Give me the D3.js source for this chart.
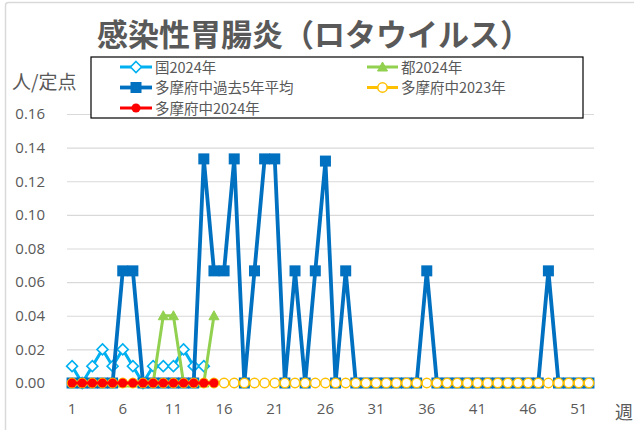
<!DOCTYPE html>
<html><head><meta charset="utf-8">
<script src="https://cdn.jsdelivr.net/npm/d3@7"></script>
<style>body{margin:0;background:#fff;}svg{display:block;}</style>
</head><body>
<svg id="chart" width="634" height="430"></svg>
<script>
const weeks = [1,2,3,4,5,6,7,8,9,10,11,12,13,14,15,16,17,18,19,20,21,22,23,24,25,26,27,28,29,30,31,32,33,34,35,36,37,38,39,40,41,42,43,44,45,46,47,48,49,50,51,52];
const xTickLabels = [1,6,11,16,21,26,31,36,41,46,51];
const yTicks = [0,0.02,0.04,0.06,0.08,0.10,0.12,0.14,0.16];
const nationalValues = [0.01,0,0.01,0.02,0.01,0.02,0.01,0,0.01,0.01,0.01,0.02,0.01,0.01];
const tokyoValues = [0,0,0,0,0,0,0,0,0,0.04,0.04,0,0,0,0.04];
const avg5Values = [0,0,0,0,0,0.0667,0.0667,0,0,0,0,0,0,0.1333,0.0667,0.0667,0.1333,0,0.0667,0.1333,0.1333,0,0.0667,0,0.0667,0.132,0,0.0667,0,0,0,0,0,0,0,0.0667,0,0,0,0,0,0,0,0,0,0,0,0.0667,0,0,0,0];
const tama2023Values = [0,0,0,0,0,0,0,0,0,0,0,0,0,0,0,0,0,0,0,0,0,0,0,0,0,0,0,0,0,0,0,0,0,0,0,0,0,0,0,0,0,0,0,0,0,0,0,0,0,0,0,0];
const tama2024Values = [0,0,0,0,0,0,0,0,0,0,0,0,0,0,0];
const seriesNames = ["国2024年","都2024年","多摩府中過去5年平均","多摩府中2023年","多摩府中2024年"];

const svg = d3.select("#chart");
const gray = "#595959";
const jp = "'Noto Sans CJK JP','Noto Sans',sans-serif";
const num = "'Open Sans','Noto Sans',sans-serif";

// chart area border
svg.append("rect").attr("x",5.5).attr("y",2.5).attr("width",700).attr("height",500)
  .attr("rx",3).attr("fill","none").attr("stroke","#d9d9d9").attr("stroke-width",1.5);

const x = d3.scaleBand().domain(weeks).range([67,594]).padding(0);
const y = d3.scaleLinear().domain([0,0.16]).range([383,114]);
const cx = w => x(w) + x.bandwidth()/2;

// gridlines
const yAxis = d3.axisLeft(y).tickValues(yTicks).tickSize(-(594-67)).tickFormat(d3.format(".2f"));
const gy = svg.append("g").attr("transform","translate(67,0)").call(yAxis);
gy.select(".domain").remove();
gy.selectAll(".tick line").attr("stroke","#d9d9d9").attr("stroke-width",1.2);
gy.selectAll(".tick text").attr("x",-22).attr("fill",gray).style("font-family",num).style("font-size","15px");

const xAxis = d3.axisBottom(x).tickValues(xTickLabels).tickSize(0);
const gx = svg.append("g").attr("transform","translate(0,383)").call(xAxis);
gx.select(".domain").remove();
gx.selectAll(".tick text").attr("y",19).attr("dy","0.71em").attr("fill",gray).style("font-family",num).style("font-size","15px");
gx.selectAll(".tick text").attr("dy",null).attr("y",31);

// title, axis labels
svg.append("text").attr("x",314).attr("y",46).attr("text-anchor","middle")
  .style("font-family",jp).style("font-size","31px").style("font-weight","bold").attr("fill",gray)
  .text("感染性胃腸炎（ロタウイルス）");
svg.append("text").attr("x",12).attr("y",89).style("font-family",jp).style("font-size","19px").attr("fill",gray).text("人/定点");
svg.append("text").attr("x",615).attr("y",419).style("font-family",jp).style("font-size","18px").attr("fill",gray).text("週");

const line = d3.line().x((d,i)=>cx(weeks[i])).y(d=>y(d));

function drawMarker(g, type, color, px, py){
  if(type==="diamond"){
    g.append("path").attr("d",`M${px},${py-5.5}L${px+5.5},${py}L${px},${py+5.5}L${px-5.5},${py}Z`)
      .attr("fill","#fff").attr("stroke",color).attr("stroke-width",1.6);
  } else if(type==="triangle"){
    g.append("path").attr("d",`M${px},${py-5}L${px+5},${py+4}L${px-5},${py+4}Z`).attr("fill",color).attr("stroke",color);
  } else if(type==="square"){
    g.append("rect").attr("x",px-5.5).attr("y",py-5.5).attr("width",11).attr("height",11).attr("fill",color);
  } else if(type==="open"){
    g.append("circle").attr("cx",px).attr("cy",py).attr("r",4.7).attr("fill","#fff").attr("stroke",color).attr("stroke-width",1.5);
  } else if(type==="dot"){
    g.append("circle").attr("cx",px).attr("cy",py).attr("r",4.5).attr("fill",color);
  }
}

const series = [
  {name:seriesNames[0], values:nationalValues, color:"#00B0F0", marker:"diamond", w:3},
  {name:seriesNames[1], values:tokyoValues, color:"#92D050", marker:"triangle", w:3},
  {name:seriesNames[2], values:avg5Values, color:"#0070C0", marker:"square", w:3.8},
  {name:seriesNames[3], values:tama2023Values, color:"#FFC000", marker:"open", w:3},
  {name:seriesNames[4], values:tama2024Values, color:"#FF0000", marker:"dot", w:3}
];

series.forEach(s=>{
  const g = svg.append("g");
  g.append("path").datum(s.values).attr("d",line).attr("fill","none")
    .attr("stroke",s.color).attr("stroke-width",s.w).attr("stroke-linejoin","miter");
  s.values.forEach((v,i)=>drawMarker(g,s.marker,s.color,cx(weeks[i]),y(v)));
});

// legend
const lg = svg.append("g");
lg.append("rect").attr("x",91).attr("y",57).attr("width",492).attr("height",61)
  .attr("fill","#fff").attr("stroke","#000").attr("stroke-width",1.2);
const legPos = [
  {x1:120,x2:152,ty:67},{x1:367,x2:398,ty:67},{x1:120,x2:152,ty:87.5},{x1:367,x2:398,ty:87.5},{x1:120,x2:152,ty:108}
];
series.forEach((s,i)=>{
  const p = legPos[i];
  lg.append("line").attr("x1",p.x1).attr("x2",p.x2).attr("y1",p.ty).attr("y2",p.ty)
    .attr("stroke",s.color).attr("stroke-width",s.w);
  drawMarker(lg,s.marker,s.color,(p.x1+p.x2)/2,p.ty);
  lg.append("text").attr("x",p.x2+3).attr("y",p.ty+5.5).style("font-family",jp).style("font-size","14.5px")
    .attr("fill",gray).text(s.name);
});
</script>
</body></html>
